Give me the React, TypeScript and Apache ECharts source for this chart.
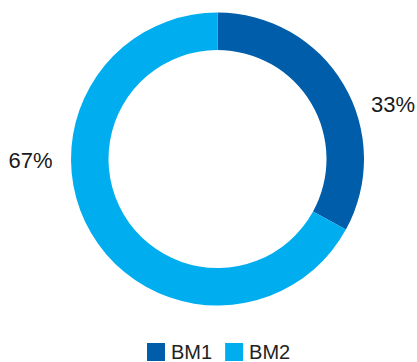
import React, { useEffect, useRef } from "react";
import * as echarts from "echarts";

const categories = ["BM1", "BM2"];
const values = [33, 67];
const colors = ["#005DAA", "#00AEEF"];
const labelSpots = [
  [393, 104],
  [30.5, 160],
];

export default function App() {
  const ref = useRef<HTMLDivElement>(null);
  useEffect(() => {
    document.body.style.margin = "0";
    const chart = echarts.init(ref.current!, null, { renderer: "svg" });
    chart.setOption({
      animation: false,
      color: colors,
      legend: {
        top: 342,
        left: 147,
        itemWidth: 18,
        itemHeight: 18,
        itemGap: 13,
        icon: "rect",
        padding: 0,
        textStyle: {
          fontSize: 20,
          lineHeight: 18,
          color: "#222",
          fontFamily: "Liberation Sans",
          padding: [0, 0, 0, 1],
        },
        data: categories,
      },
      series: [
        {
          type: "pie",
          center: [217.5, 159],
          radius: [109, 146.5],
          startAngle: 90,
          clockwise: true,
          label: {
            show: true,
            position: "outside",
            formatter: (p: any) => p.value + "%",
            fontSize: 22,
            color: "#1a1a1a",
            fontFamily: "Liberation Sans",
            overflow: "none",
          },
          labelLine: { show: false },
          labelLayout: (p: any) => ({
            x: labelSpots[p.dataIndex][0],
            y: labelSpots[p.dataIndex][1],
            align: "center",
            verticalAlign: "middle",
          }),
          emphasis: { disabled: true },
          data: categories.map((c, i) => ({ name: c, value: values[i] })),
        },
      ],
    });
    return () => chart.dispose();
  }, []);
  return <div ref={ref} style={{ width: 417, height: 362 }} />;
}
